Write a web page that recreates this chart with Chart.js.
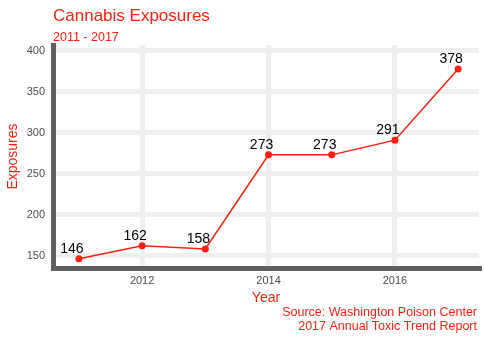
<!DOCTYPE html>
<html>
<head>
<meta charset="utf-8">
<script src="https://cdn.jsdelivr.net/npm/chart.js@4"></script>
<style>
  html, body { margin: 0; padding: 0; background: #fff; }
  #wrap { width: 485px; height: 340px; }
</style>
</head>
<body>
<div id="wrap"><canvas id="chart" width="485" height="340"></canvas></div>
<script>
// data
const years = [2011, 2012, 2013, 2014, 2015, 2016, 2017];
const exposures = [146, 162, 158, 273, 273, 291, 378];
const xTicks = [2012, 2014, 2016];
const yTicks = [150, 200, 250, 300, 350, 400];

const RED = '#ff1f0f';
const FONT = '"Liberation Sans", Arial, sans-serif';

// titles, labels and caption drawn on the canvas
const textPlugin = {
    id: 'texts',
    afterDatasetsDraw(chart) {
        const ctx = chart.ctx;
        const area = chart.chartArea;
        const meta = chart.getDatasetMeta(0);
        ctx.save();

        // value labels above points
        ctx.fillStyle = '#000';
        ctx.font = '14px ' + FONT;
        ctx.textAlign = 'center';
        ctx.textBaseline = 'alphabetic';
        meta.data.forEach((pt, i) => {
            ctx.fillText(String(exposures[i]), pt.x - 7, pt.y - 6);
        });

        // title + subtitle
        ctx.fillStyle = RED;
        ctx.textAlign = 'left';
        ctx.font = '17px ' + FONT;
        ctx.fillText('Cannabis Exposures', area.left, 21);
        ctx.font = '12.5px ' + FONT;
        ctx.fillText('2011 - 2017', area.left, 41);

        // axis titles
        ctx.font = '14px ' + FONT;
        ctx.textAlign = 'center';
        ctx.fillText('Year', (area.left + area.right) / 2, 302);
        ctx.save();
        ctx.translate(16.5, (area.top + area.bottom) / 2);
        ctx.rotate(-Math.PI / 2);
        ctx.fillText('Exposures', 0, 0);
        ctx.restore();

        // caption
        ctx.font = '12.5px ' + FONT;
        ctx.textAlign = 'right';
        ctx.fillText('Source: Washington Poison Center', area.right - 2, 316);
        ctx.fillText('2017 Annual Toxic Trend Report', area.right - 2, 330);

        ctx.restore();
    }
};

const ctx = document.getElementById('chart').getContext('2d');
new Chart(ctx, {
    type: 'line',
    data: {
        datasets: [{
            data: years.map((y, i) => ({ x: y, y: exposures[i] })),
            borderColor: RED,
            backgroundColor: RED,
            borderWidth: 1.5,
            pointRadius: 3.5,
            pointBorderWidth: 0,
            tension: 0
        }]
    },
    options: {
        responsive: false,
        animation: false,
        layout: { padding: { left: 0, top: 45, right: 6, bottom: 0 } },
        plugins: {
            legend: { display: false },
            tooltip: { enabled: false }
        },
        scales: {
            x: {
                type: 'linear',
                min: 2010.59,
                max: 2017.33,
                afterBuildTicks: (scale) => { scale.ticks = xTicks.map(v => ({ value: v })); },
                afterFit: (scale) => { scale.height = 72; },
                grid: { color: '#efefef', lineWidth: 5, drawTicks: false },
                border: { display: true, color: '#5f5f5f', width: 5 },
                ticks: {
                    color: '#4d4d4d',
                    font: { family: FONT, size: 11 },
                    padding: 6,
                    maxRotation: 0,
                    callback: (v) => String(v)
                }
            },
            y: {
                min: 134.7,
                max: 407.3,
                afterBuildTicks: (scale) => { scale.ticks = yTicks.map(v => ({ value: v })); },
                afterFit: (scale) => { scale.width = 53; },
                grid: { color: '#efefef', lineWidth: 5, drawTicks: false },
                border: { display: true, color: '#5f5f5f', width: 5 },
                ticks: {
                    color: '#4d4d4d',
                    font: { family: FONT, size: 11 },
                    padding: 8
                }
            }
        }
    },
    plugins: [textPlugin]
});
</script>
</body>
</html>
